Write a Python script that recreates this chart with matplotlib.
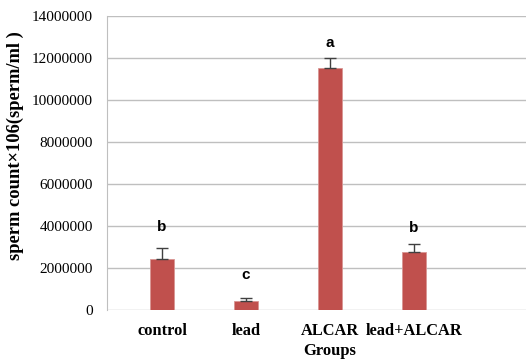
import matplotlib
matplotlib.use("Agg")
import matplotlib.pyplot as plt

groups = ["control", "lead", "ALCAR", "lead+ALCAR"]
counts = [2430000, 440000, 11520000, 2780000]
errors = [520000, 120000, 480000, 360000]
letters = ["b", "c", "a", "b"]
letter_y = [3600000, 1350000, 12400000, 3550000]
yticks = list(range(0, 14000001, 2000000))

fig = plt.figure(figsize=(5.26, 3.63), dpi=100)
ax = fig.add_axes([0.2034, 0.146, 0.848, 0.81])

x = list(range(len(groups)))
ax.bar(x, counts, width=0.29, color="#C0504D", edgecolor="#D99694", linewidth=0.6, zorder=3)
ax.errorbar(x, counts, yerr=[[0] * len(errors), errors], fmt="none", ecolor="#404040",
            elinewidth=1.0, capsize=4, capthick=1.0, zorder=4)
for xi, lab, ly in zip(x, letters, letter_y):
    ax.text(xi, ly, lab, ha="center", va="bottom", fontsize=11, fontweight="bold",
            family="Liberation Sans", color="black")

ax.set_xlim(-0.655, 4.655)
ax.set_ylim(0, 14000000)
ax.set_yticks(yticks)
ax.set_yticklabels([str(v) for v in yticks], family="Liberation Serif", fontsize=11)
ax.set_xticks(x)
ax.set_xticklabels(groups, family="Liberation Serif", fontsize=11.8, fontweight="bold")
ax.tick_params(axis="x", length=0, pad=9)
ax.tick_params(axis="y", length=0, pad=10)
ax.yaxis.grid(True, color="#BFBFBF", linewidth=1.0, zorder=0)
ax.set_axisbelow(True)
for s in ["top", "right", "bottom"]:
    ax.spines[s].set_visible(False)
ax.spines["left"].set_color("#BFBFBF")
ax.set_xlabel("Groups", family="Liberation Serif", fontsize=12, fontweight="bold", labelpad=3)
ax.set_ylabel("sperm count\u00d7106(sperm/ml )", family="Liberation Serif", fontsize=13.3,
              fontweight="bold")
ax.yaxis.set_label_coords(-0.186, 0.56)

fig.savefig("out.png", dpi=100)
